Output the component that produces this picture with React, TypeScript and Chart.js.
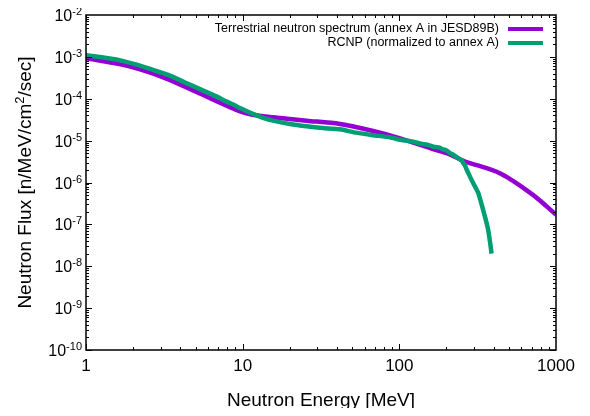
import React, { useEffect, useRef } from "react";
import { Chart, registerables } from "chart.js";

Chart.register(...registerables);

// Terrestrial neutron spectrum (annex A in JESD89B)
const energyJedec = [1, 1.26, 1.61, 2.05, 2.63, 3.35, 4.28, 5.47, 7.7, 8.9, 9.6, 11.4, 13.5, 15.6, 25.6, 41.8, 68, 100, 164, 210, 256, 438, 716, 1000];
const fluxJedec = [9.3e-4, 8.0e-4, 6.8e-4, 5.5e-4, 4.1e-4, 2.9e-4, 1.95e-4, 1.28e-4, 7.1e-5, 5.6e-5, 5.0e-5, 4.2e-5, 3.8e-5, 3.6e-5, 3.0e-5, 2.5e-5, 1.7e-5, 1.15e-5, 6.3e-6, 4.7e-6, 3.3e-6, 1.66e-6, 5.0e-7, 1.7e-7];

// RCNP (normalized to annex A)
const energyRcnp = [1, 1.26, 1.61, 2.05, 2.63, 3.35, 4.28, 5.47, 7.0, 7.7, 8.9, 9.6, 11.4, 12.3, 13.5, 15.6, 20, 25.6, 32.5, 41.8, 53, 68, 87, 101, 111, 120, 130, 140, 150, 164, 172, 180, 190, 200, 210, 225, 237, 250, 256, 262, 268, 282, 297, 319, 343, 356, 369, 380, 388];
const fluxRcnp = [1.1e-3, 9.8e-4, 8.5e-4, 6.7e-4, 5.0e-4, 3.7e-4, 2.45e-4, 1.63e-4, 1.09e-4, 8.9e-5, 7.0e-5, 6.0e-5, 4.5e-5, 4.0e-5, 3.5e-5, 3.0e-5, 2.5e-5, 2.2e-5, 2.0e-5, 1.86e-5, 1.55e-5, 1.35e-5, 1.2e-5, 1.05e-5, 1.0e-5, 9.6e-6, 8.9e-6, 8.3e-6, 8.0e-6, 7.2e-6, 7.0e-6, 6.8e-6, 6.2e-6, 5.8e-6, 5.1e-6, 4.4e-6, 3.8e-6, 3.4e-6, 2.9e-6, 2.6e-6, 2.1e-6, 1.4e-6, 9.5e-7, 5.6e-7, 2.2e-7, 1.3e-7, 7.4e-8, 3.6e-8, 2.0e-8];

const xMajorTicks = [1, 10, 100, 1000];
const xTickLabels = ["1", "10", "100", "1000"];
const yExponents = [-2, -3, -4, -5, -6, -7, -8, -9, -10];

const legendLabels = [
  "Terrestrial neutron spectrum (annex A in JESD89B)",
  "RCNP (normalized to annex A)",
];
const seriesColors = ["#9400d3", "#009e73"];

const FONT = "'Liberation Sans', Arial, sans-serif";

const decorPlugin = {
  id: "gnuplotDecor",
  afterDatasetsDraw(chart: any) {
    const { ctx, chartArea } = chart;
    const { left, right, top, bottom } = chartArea;
    const xs = chart.scales.x;
    const ys = chart.scales.y;
    ctx.save();
    ctx.strokeStyle = "#000";
    ctx.fillStyle = "#000";
    // ticks
    ctx.lineWidth = 1;
    const major = 6;
    const minor = 3;
    ctx.beginPath();
    for (let d = 0; d < 3; d++) {
      for (let m = 1; m <= 9; m++) {
        const v = Math.pow(10, d) * m;
        const px = Math.round(xs.getPixelForValue(v)) + 0.5;
        const len = m === 1 ? major : minor;
        ctx.moveTo(px, bottom);
        ctx.lineTo(px, bottom - len);
        ctx.moveTo(px, top);
        ctx.lineTo(px, top + len);
      }
    }
    for (let e = -10; e < -2; e++) {
      for (let m = 1; m <= 9; m++) {
        const v = Math.pow(10, e) * m;
        const py = Math.round(ys.getPixelForValue(v)) + 0.5;
        const len = m === 1 ? major : minor;
        ctx.moveTo(left, py);
        ctx.lineTo(left + len, py);
        ctx.moveTo(right, py);
        ctx.lineTo(right - len, py);
      }
    }
    ctx.stroke();
    // frame
    ctx.lineWidth = 1.5;
    ctx.strokeRect(left, top, right - left, bottom - top);

    // x tick labels
    ctx.font = `17px ${FONT}`;
    ctx.textAlign = "center";
    ctx.textBaseline = "middle";
    xMajorTicks.forEach((v, i) => {
      ctx.fillText(xTickLabels[i], xs.getPixelForValue(v), bottom + 16);
    });

    // y tick labels 10^e
    const labelRight = left - 4;
    yExponents.forEach((e) => {
      const py = ys.getPixelForValue(Math.pow(10, e));
      const expText = String(e);
      ctx.font = `11px ${FONT}`;
      const ew = ctx.measureText(expText).width;
      ctx.textAlign = "right";
      ctx.textBaseline = "alphabetic";
      ctx.fillText(expText, labelRight, py);
      ctx.font = `16px ${FONT}`;
      ctx.fillText("10", labelRight - ew, py + 6);
    });

    // x title
    ctx.font = `19px ${FONT}`;
    ctx.textAlign = "center";
    ctx.textBaseline = "middle";
    ctx.fillText("Neutron Energy [MeV]", (left + right) / 2, bottom + 51);

    // y title rotated with superscript 2
    ctx.save();
    ctx.translate(16, (top + bottom) / 2);
    ctx.rotate(-Math.PI / 2);
    const p1 = "Neutron Flux [n/MeV/cm";
    const p2 = "2";
    const p3 = "/sec]";
    ctx.font = `19px ${FONT}`;
    const w1 = ctx.measureText(p1).width;
    const w3 = ctx.measureText(p3).width;
    ctx.font = `13px ${FONT}`;
    const w2 = ctx.measureText(p2).width;
    const total = w1 + w2 + w3;
    const x0 = -total / 2;
    ctx.textAlign = "left";
    ctx.textBaseline = "alphabetic";
    ctx.font = `19px ${FONT}`;
    ctx.fillText(p1, x0, 7);
    ctx.font = `13px ${FONT}`;
    ctx.fillText(p2, x0 + w1, 0);
    ctx.font = `19px ${FONT}`;
    ctx.fillText(p3, x0 + w1 + w2, 7);
    ctx.restore();

    // legend
    ctx.font = `12.5px ${FONT}`;
    ctx.textAlign = "right";
    ctx.textBaseline = "middle";
    legendLabels.forEach((lab, i) => {
      const y = top + 14 + i * 14;
      ctx.fillStyle = "#000";
      ctx.fillText(lab, right - 57, y);
      ctx.strokeStyle = seriesColors[i];
      ctx.lineWidth = 4;
      ctx.beginPath();
      ctx.moveTo(right - 48, y);
      ctx.lineTo(right - 13, y);
      ctx.stroke();
    });
    ctx.restore();
  },
};

export default function App() {
  const ref = useRef<HTMLCanvasElement | null>(null);
  useEffect(() => {
    if (!ref.current) return;
    const chart = new Chart(ref.current, {
      type: "line",
      data: {
        datasets: [
          {
            label: legendLabels[0],
            data: energyJedec.map((x, i) => ({ x, y: fluxJedec[i] })),
            borderColor: seriesColors[0],
            borderWidth: 4.5,
            pointRadius: 0,
            tension: 0.3,
            order: 1,
          },
          {
            label: legendLabels[1],
            data: energyRcnp.map((x, i) => ({ x, y: fluxRcnp[i] })),
            borderColor: seriesColors[1],
            borderWidth: 4.5,
            pointRadius: 0,
            tension: 0.15,
            order: 0,
          },
        ],
      },
      options: {
        animation: false,
        responsive: false,
        maintainAspectRatio: false,
        layout: { padding: { top: 7, right: 26, left: 0, bottom: 0 } },
        plugins: { legend: { display: false }, tooltip: { enabled: false } },
        scales: {
          x: {
            type: "logarithmic",
            min: 1,
            max: 1000,
            grid: { display: false },
            border: { display: false },
            ticks: { display: false },
            afterFit: (s: any) => {
              s.height = 58;
            },
          },
          y: {
            type: "logarithmic",
            min: 1e-10,
            max: 1e-2,
            grid: { display: false },
            border: { display: false },
            ticks: { display: false },
            afterFit: (s: any) => {
              s.width = 78;
            },
          },
        },
      },
      plugins: [decorPlugin],
    });
    return () => chart.destroy();
  }, []);
  return <canvas ref={ref} width={574} height={400} style={{ display: "block" }} />;
}
